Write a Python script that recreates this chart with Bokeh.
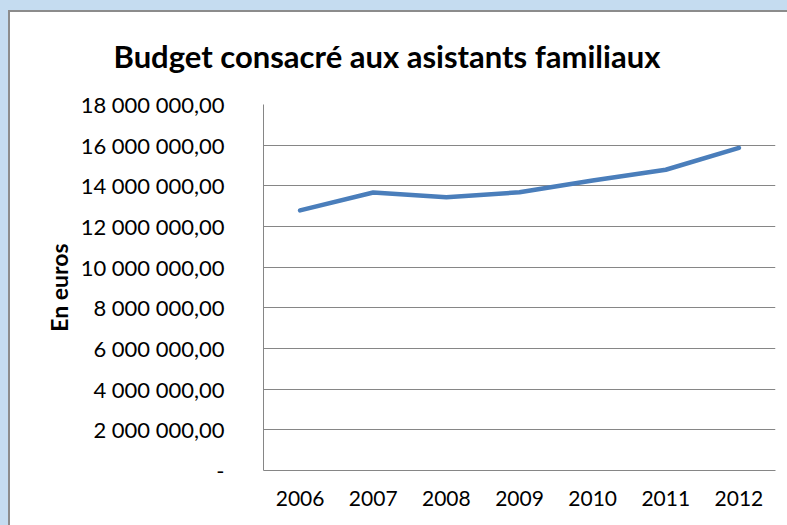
from bokeh.plotting import figure
from bokeh.models import FixedTicker, Range1d, FactorRange
from bokeh.embed import file_html
from bokeh.resources import INLINE

years = ["2006", "2007", "2008", "2009", "2010", "2011", "2012"]
budget = [12790000, 13670000, 13440000, 13680000, 14260000, 14790000, 15870000]
y_ticks = [0, 2000000, 4000000, 6000000, 8000000, 10000000, 12000000,
           14000000, 16000000, 18000000]
y_tick_labels = ["-", "2 000 000,00", "4 000 000,00", "6 000 000,00", "8 000 000,00",
                 "10 000 000,00", "12 000 000,00", "14 000 000,00", "16 000 000,00",
                 "18 000 000,00"]
title_text = "Budget consacré aux asistants familiaux"
y_label = "En euros"

p = figure(width=787, height=525, x_range=FactorRange(*years),
           y_range=Range1d(0, 18000000), output_backend="svg",
           toolbar_location=None, min_border_left=263, min_border_right=12,
           min_border_top=104, min_border_bottom=55)
p.styles = {
    "background-image": (
        "linear-gradient(to right, #C5DCF0 0px, #C5DCF0 8px, transparent 8px), "
        "linear-gradient(to bottom, #C5DCF0 0px, #C5DCF0 10px, transparent 10px), "
        "linear-gradient(to right, #8C8C8C 0px, #8C8C8C 10px, transparent 10px), "
        "linear-gradient(to bottom, #8C8C8C 0px, #8C8C8C 12px, transparent 12px)"),
    "background-color": "#FFFFFF",
    "background-repeat": "no-repeat",
    "background-size": "100% 100%",
}

p.line(years, budget, line_color="#4A7EBB", line_width=4.5, line_cap="round",
       line_join="round")

p.title.text = title_text
p.title.text_font = "Lato"
p.title.text_font_style = "bold"
p.title.text_font_size = "31px"
p.title.text_color = "#000000"
p.title.align = "left"
p.title.offset = -150
p.title.standoff = 59

p.outline_line_color = None
p.background_fill_color = "white"
p.border_fill_color = None

p.yaxis.ticker = FixedTicker(ticks=y_ticks)
p.yaxis.major_label_overrides = dict(zip(y_ticks, y_tick_labels))
p.yaxis.axis_label = y_label
p.yaxis.axis_label_text_font = "Lato"
p.yaxis.axis_label_text_font_style = "bold"
p.yaxis.axis_label_text_font_size = "23px"
p.yaxis.axis_label_text_color = "#000000"
p.yaxis.axis_label_standoff = 5
p.yaxis.major_label_standoff = 39

for ax in (p.xaxis, p.yaxis):
    ax.major_label_text_font = "Lato"
    ax.major_label_text_color = "#000000"
    ax.axis_line_color = "#868686"
    ax.axis_line_width = 1
    ax.major_tick_line_color = None
    ax.minor_tick_line_color = None
    ax.major_tick_out = 0
    ax.major_tick_in = 0

p.yaxis.major_label_text_font_size = "22px"
p.xaxis.major_label_text_font_size = "21px"
p.xaxis.major_label_standoff = 20

p.xgrid.grid_line_color = None
p.ygrid.grid_line_color = "#868686"
p.ygrid.grid_line_width = 1

open("out.html", "w").write(file_html(p, INLINE))
